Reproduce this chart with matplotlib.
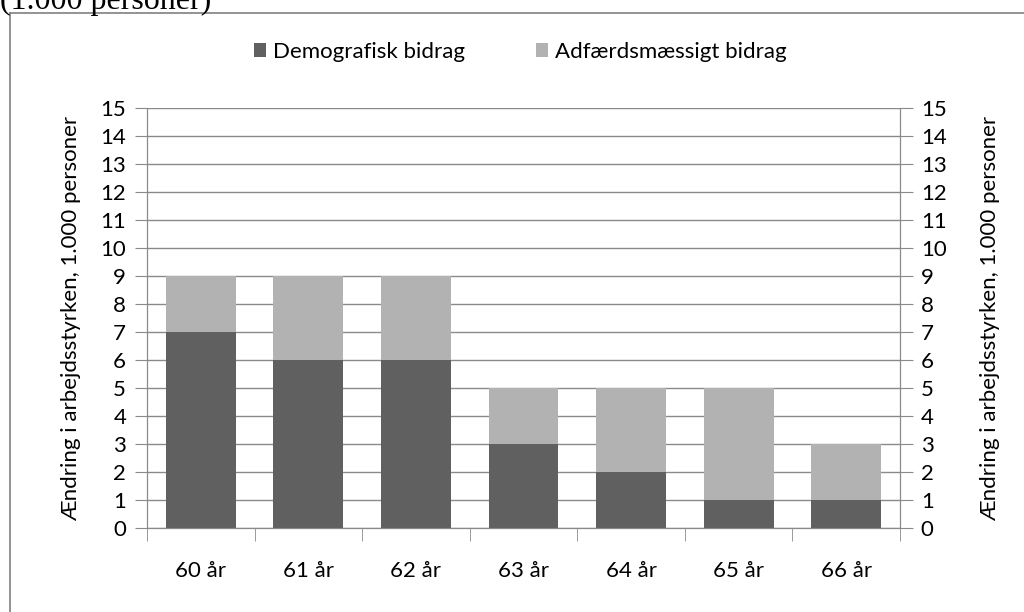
import matplotlib.pyplot as plt
import numpy as np
from matplotlib.lines import Line2D

# data
ages = ['60 år', '61 år', '62 år', '63 år', '64 år', '65 år', '66 år']
demografisk = [7, 6, 6, 3, 2, 1, 1]
adfaerd = [2, 3, 3, 2, 3, 4, 2]
yticks = list(range(0, 16))

ylabel = 'Ændring i arbejdsstyrken, 1.000 personer'
DARK = '#606060'
LIGHT = '#b2b2b2'
GRID = '#8a8a8a'
FONT = 'Lato'
FS = 16

plt.rcParams['font.family'] = [FONT, 'DejaVu Sans']

fig = plt.figure(figsize=(10.24, 6.12), dpi=100)
ax = fig.add_axes([147 / 1024, 1 - 528 / 612, (900 - 147) / 1024, (528 - 108) / 612])

x = np.arange(len(ages))
ax.bar(x, demografisk, width=0.65, color=DARK, label='Demografisk bidrag', zorder=3)
ax.bar(x, adfaerd, width=0.65, bottom=demografisk, color=LIGHT,
       label='Adfærdsmæssigt bidrag', zorder=3)

ax.set_xlim(-0.5, len(ages) - 0.5)
ax.set_ylim(0, 15)
ax.set_yticks(yticks)
ax.tick_params(axis='y', labelsize=FS, length=9, color=GRID, pad=6)
ax.yaxis.grid(True, color=GRID, linewidth=1, zorder=0)
ax.set_axisbelow(True)

ax.set_xticks(x)
ax.set_xticklabels(ages, fontsize=FS)
ax.set_xticks(np.arange(-0.5, len(ages)), minor=True)
ax.tick_params(axis='x', which='major', length=0, pad=24)
ax.tick_params(axis='x', which='minor', length=9, color=GRID)

for s in ['left', 'right', 'bottom']:
    ax.spines[s].set_color(GRID)
ax.spines['top'].set_visible(False)

ax.set_ylabel(ylabel, fontsize=FS, labelpad=14)

ax2 = ax.twinx()
ax2.set_ylim(0, 15)
ax2.set_yticks(yticks)
ax2.tick_params(axis='y', labelsize=FS, length=9, color=GRID, pad=6)
for s in ['left', 'right', 'bottom']:
    ax2.spines[s].set_color(GRID)
ax2.spines['top'].set_visible(False)
ax2.set_ylabel(ylabel, fontsize=FS, labelpad=24)

handles, labels = ax.get_legend_handles_labels()
fig.legend(handles, labels, loc='center', bbox_to_anchor=(0.508, 1 - 52 / 612),
           ncol=2, frameon=False, fontsize=FS, handlelength=0.55, handleheight=0.55,
           handletextpad=0.3, columnspacing=3.2)

# outer frame and cut-off heading
fig.add_artist(Line2D([10 / 1024, 10 / 1024], [0, 1 - 13 / 612], color='#808080', lw=1.2))
fig.add_artist(Line2D([10 / 1024, 1], [1 - 13 / 612, 1 - 13 / 612], color='#808080', lw=1.2))
fig.text(0.0, 1 - 9 / 612, '(1.000 personer)', fontsize=23, family='Liberation Serif',
         va='baseline', ha='left')

fig.savefig('out.png', dpi=100)
